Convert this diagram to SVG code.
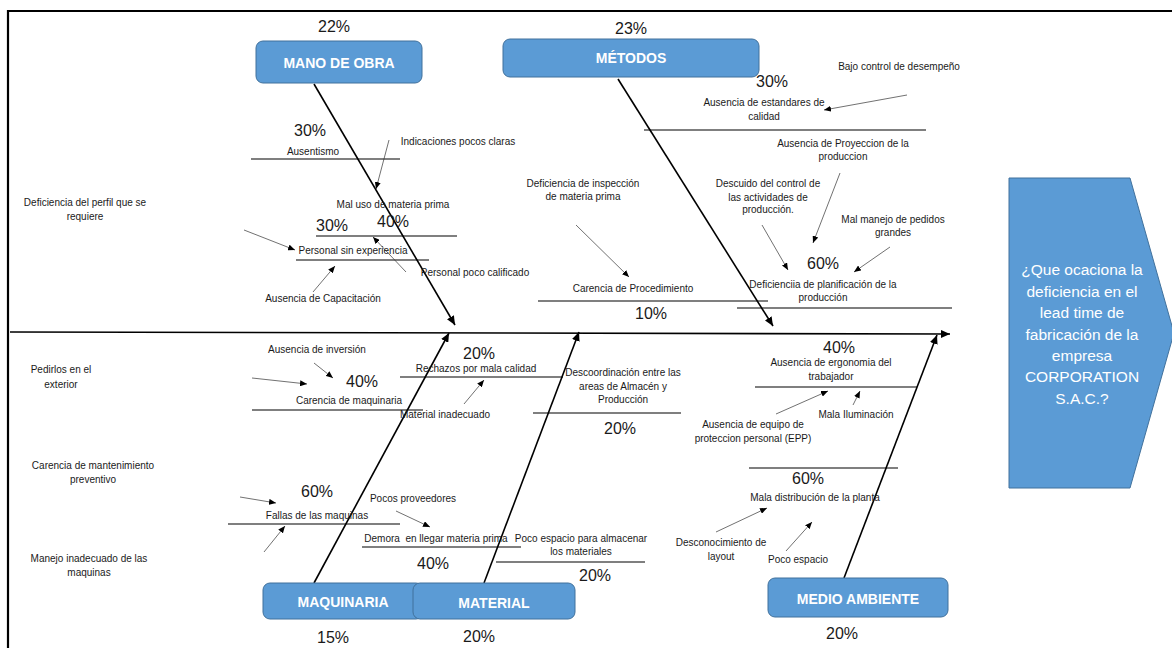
<svg xmlns="http://www.w3.org/2000/svg" width="1172" height="648" viewBox="0 0 1172 648">
<style>
.box{fill:#5b9bd5;stroke:#41719c;stroke-width:1}
.bt{font-family:"Liberation Sans",Arial,sans-serif;font-weight:bold;font-size:14px;fill:#ffffff;text-anchor:middle}
.et{font-family:"Liberation Sans",Arial,sans-serif;font-size:15.5px;fill:#ffffff;text-anchor:middle}
.t{font-family:"Liberation Sans",Arial,sans-serif;font-size:10px;fill:#1a1a1a;text-anchor:middle}
.p{font-family:"Liberation Sans",Arial,sans-serif;font-size:16px;fill:#1a1a1a;text-anchor:middle}
.bone{stroke:#000;stroke-width:1.6;fill:none}
.sub{stroke:#000;stroke-width:1.1;fill:none}
.sm{stroke:#333;stroke-width:0.7;fill:none}
.frame{stroke:#000;stroke-width:2.2;fill:none}
</style>
<defs>
<marker id="ah" markerUnits="userSpaceOnUse" markerWidth="9" markerHeight="8" refX="9" refY="4" orient="auto">
<path d="M0,0 L9,4 L0,8 z" fill="#000"/>
</marker>
<marker id="as" markerUnits="userSpaceOnUse" markerWidth="7" markerHeight="6" refX="7" refY="3" orient="auto">
<path d="M0,0 L7,3 L0,6 z" fill="#000"/>
</marker>
</defs>
<rect width="1172" height="648" fill="#ffffff"/>
<path class="frame" d="M8,648 L8,11 L1172,11"/>

<g id="connectors">
<line class="bone" x1="10" y1="332" x2="950" y2="334" marker-end="url(#ah)"/>
<line class="bone" x1="314" y1="84" x2="455" y2="325" marker-end="url(#ah)"/>
<line class="bone" x1="618" y1="79" x2="773" y2="326" marker-end="url(#ah)"/>
<line class="bone" x1="314" y1="583" x2="449" y2="333" marker-end="url(#ah)"/>
<line class="bone" x1="484" y1="583" x2="579" y2="332" marker-end="url(#ah)"/>
<line class="bone" x1="844" y1="578" x2="937" y2="335" marker-end="url(#ah)"/>

<line class="sub" x1="251" y1="159" x2="400" y2="159"/>
<line class="sub" x1="316" y1="236" x2="457" y2="236"/>
<line class="sub" x1="296" y1="260" x2="429" y2="260"/>
<line class="sub" x1="644" y1="130" x2="926" y2="130"/>
<line class="sub" x1="538" y1="301" x2="768" y2="301"/>
<line class="sub" x1="737" y1="308" x2="952" y2="308"/>
<line class="sub" x1="252" y1="410" x2="423" y2="410"/>
<line class="sub" x1="400" y1="377" x2="563" y2="377"/>
<line class="sub" x1="533" y1="413" x2="681" y2="413"/>
<line class="sub" x1="228" y1="524" x2="400" y2="524"/>
<line class="sub" x1="362" y1="547" x2="521" y2="547"/>
<line class="sub" x1="496" y1="562" x2="645" y2="562"/>
<line class="sub" x1="755" y1="387" x2="917" y2="387"/>
<line class="sub" x1="749" y1="468" x2="898" y2="468"/>

<line class="sm" x1="389" y1="140" x2="376" y2="189" marker-end="url(#as)"/>
<line class="sm" x1="244" y1="230" x2="295" y2="250" marker-end="url(#as)"/>
<line class="sm" x1="406" y1="272" x2="373" y2="237" marker-end="url(#as)"/>
<line class="sm" x1="313" y1="292" x2="335" y2="266" marker-end="url(#as)"/>
<line class="sm" x1="907" y1="95" x2="824" y2="110" marker-end="url(#as)"/>
<line class="sm" x1="840" y1="173" x2="813" y2="243" marker-end="url(#as)"/>
<line class="sm" x1="576" y1="225" x2="629" y2="277" marker-end="url(#as)"/>
<line class="sm" x1="762" y1="225" x2="788" y2="270" marker-end="url(#as)"/>
<line class="sm" x1="890" y1="247" x2="854" y2="272" marker-end="url(#as)"/>
<line class="sm" x1="314" y1="363" x2="333" y2="378" marker-end="url(#as)"/>
<line class="sm" x1="252" y1="378" x2="307" y2="384" marker-end="url(#as)"/>
<line class="sm" x1="464" y1="404" x2="484" y2="380" marker-end="url(#as)"/>
<line class="sm" x1="240" y1="497" x2="276" y2="503" marker-end="url(#as)"/>
<line class="sm" x1="264" y1="552" x2="285" y2="526" marker-end="url(#as)"/>
<line class="sm" x1="396" y1="511" x2="430" y2="527" marker-end="url(#as)"/>
<line class="sm" x1="776" y1="414" x2="828" y2="391" marker-end="url(#as)"/>
<line class="sm" x1="853" y1="405" x2="860" y2="391" marker-end="url(#as)"/>
<line class="sm" x1="716" y1="532" x2="767" y2="508" marker-end="url(#as)"/>
<line class="sm" x1="786" y1="551" x2="812" y2="522" marker-end="url(#as)"/>
</g>

<g id="node-mano-de-obra">
<text class="p" x="334" y="32">22%</text>
<rect class="box" x="256" y="41" width="166" height="42" rx="7"/>
<text class="bt" x="339" y="68">MANO DE OBRA</text>
</g>
<g id="node-metodos">
<text class="p" x="631" y="34">23%</text>
<rect class="box" x="503" y="39" width="256" height="38" rx="7"/>
<text class="bt" x="631" y="63">MÉTODOS</text>
</g>
<g id="node-maquinaria">
<rect class="box" x="263" y="583" width="160" height="36" rx="7"/>
<text class="bt" x="343" y="607">MAQUINARIA</text>
<text class="p" x="333" y="643">15%</text>
</g>
<g id="node-material">
<rect class="box" x="413" y="583" width="162" height="36" rx="7"/>
<text class="bt" x="494" y="608">MATERIAL</text>
<text class="p" x="479" y="642">20%</text>
</g>
<g id="node-medio-ambiente">
<rect class="box" x="768" y="578" width="180" height="39" rx="7"/>
<text class="bt" x="858" y="604">MEDIO AMBIENTE</text>
<text class="p" x="842" y="639">20%</text>
</g>
<g id="node-efecto">
<polygon class="box" points="1009,178 1130,178 1174,333 1130,488 1009,488"/>
<text class="et" x="1082" y="275">¿Que ocaciona la</text>
<text class="et" x="1082" y="297">deficiencia en el</text>
<text class="et" x="1082" y="318">lead time de</text>
<text class="et" x="1082" y="340">fabricación de la</text>
<text class="et" x="1082" y="361">empresa</text>
<text class="et" x="1082" y="382">CORPORATION</text>
<text class="et" x="1082" y="404">S.A.C.?</text>
</g>

<g id="causes-mano-de-obra">
<text class="p" x="310" y="136">30%</text>
<text class="t" x="313" y="155">Ausentismo</text>
<text class="t" x="458" y="145">Indicaciones pocos claras</text>
<text class="t" x="393" y="208">Mal uso de materia prima</text>
<text class="p" x="393" y="227">40%</text>
<text class="p" x="332" y="231">30%</text>
<text class="t" x="353" y="254">Personal sin experiencia</text>
<text class="t" x="85" y="206">Deficiencia del perfil que se</text>
<text class="t" x="85" y="220">requiere</text>
<text class="t" x="475" y="276">Personal poco calificado</text>
<text class="t" x="323" y="302">Ausencia de Capacitación</text>
</g>
<g id="causes-metodos">
<text class="t" x="899" y="70">Bajo control de desempeño</text>
<text class="p" x="772" y="87">30%</text>
<text class="t" x="764" y="106">Ausencia de estandares de</text>
<text class="t" x="764" y="120">calidad</text>
<text class="t" x="843" y="147">Ausencia de Proyeccion de la</text>
<text class="t" x="843" y="160">produccion</text>
<text class="t" x="583" y="187">Deficiencia de inspección</text>
<text class="t" x="583" y="200">de materia prima</text>
<text class="t" x="768" y="187">Descuido del control de</text>
<text class="t" x="768" y="201">las actividades de</text>
<text class="t" x="768" y="213">producción.</text>
<text class="t" x="893" y="223">Mal manejo de pedidos</text>
<text class="t" x="893" y="236">grandes</text>
<text class="p" x="823" y="269">60%</text>
<text class="t" x="633" y="292">Carencia de Procedimiento</text>
<text class="p" x="651" y="319">10%</text>
<text class="t" x="823" y="288">Deficienciia de planificación de la</text>
<text class="t" x="823" y="301">producción</text>
</g>
<g id="causes-maquinaria">
<text class="t" x="317" y="353">Ausencia de inversión</text>
<text class="t" x="61" y="373">Pedirlos en el</text>
<text class="t" x="61" y="388">exterior</text>
<text class="p" x="362" y="387">40%</text>
<text class="t" x="349" y="404">Carencia de maquinaria</text>
<text class="t" x="93" y="469">Carencia de mantenimiento</text>
<text class="t" x="93" y="483">preventivo</text>
<text class="p" x="317" y="497">60%</text>
<text class="t" x="317" y="519">Fallas de las maquinas</text>
<text class="t" x="89" y="562">Manejo inadecuado de las</text>
<text class="t" x="89" y="576">maquinas</text>
</g>
<g id="causes-material">
<text class="p" x="479" y="359">20%</text>
<text class="t" x="476" y="372">Rechazos por mala calidad</text>
<text class="t" x="445" y="418">Material inadecuado</text>
<text class="t" x="623" y="376">Descoordinación entre las</text>
<text class="t" x="623" y="390">areas de  Almacén y</text>
<text class="t" x="623" y="403">Producción</text>
<text class="p" x="620" y="434">20%</text>
<text class="t" x="413" y="502">Pocos proveedores</text>
<text class="t" x="436" y="542" xml:space="preserve">Demora  en llegar materia prima</text>
<text class="p" x="433" y="569">40%</text>
<text class="t" x="581" y="542">Poco espacio para almacenar</text>
<text class="t" x="581" y="555">los materiales</text>
<text class="p" x="595" y="581">20%</text>
</g>
<g id="causes-medio-ambiente">
<text class="p" x="839" y="353">40%</text>
<text class="t" x="831" y="366">Ausencia de ergonomia  del</text>
<text class="t" x="831" y="380">trabajador</text>
<text class="t" x="856" y="418">Mala Iluminación</text>
<text class="t" x="753" y="428">Ausencia de equipo de</text>
<text class="t" x="753" y="442">proteccion personal (EPP)</text>
<text class="p" x="808" y="484">60%</text>
<text class="t" x="815" y="501">Mala distribución de la planta</text>
<text class="t" x="721" y="546">Desconocimiento de</text>
<text class="t" x="721" y="560">layout</text>
<text class="t" x="798" y="563">Poco espacio</text>
</g>
</svg>
